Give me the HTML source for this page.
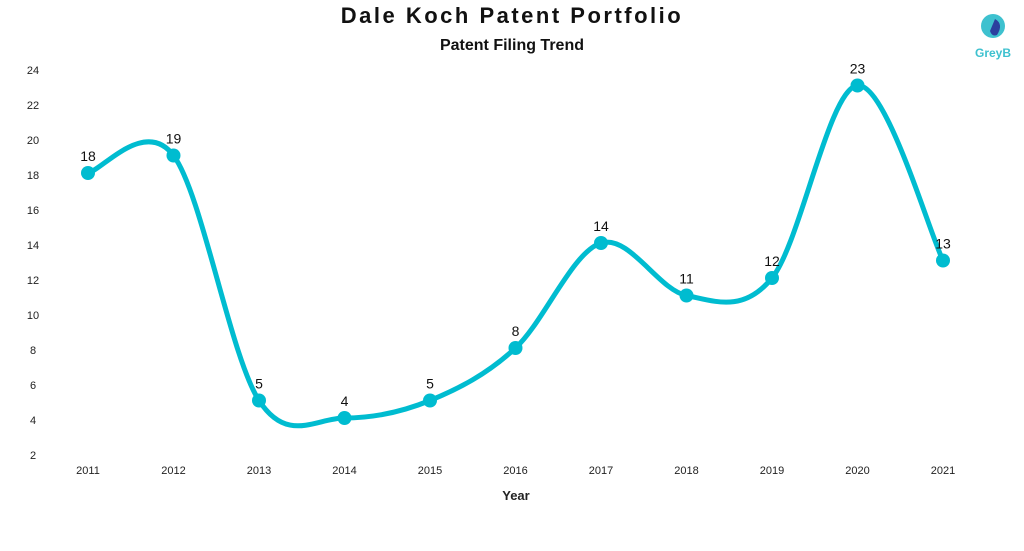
<!DOCTYPE html>
<html><head><meta charset="utf-8"><style>
body{margin:0;background:#fff;width:1024px;height:546px;overflow:hidden;font-family:"Liberation Sans",sans-serif}
</style></head><body>
<svg id="s" width="1024" height="546" viewBox="0 0 1024 546" xmlns="http://www.w3.org/2000/svg" font-family="Liberation Sans, sans-serif">
<text x="512" y="23" text-anchor="middle" font-size="22" font-weight="bold" letter-spacing="2.5" fill="#111">Dale Koch Patent Portfolio</text>
<text x="512" y="50" text-anchor="middle" font-size="16" font-weight="bold" fill="#111">Patent Filing Trend</text>
<g font-size="11" fill="#222" text-anchor="middle">
<text x="33" y="74">24</text><text x="33" y="109">22</text><text x="33" y="144">20</text><text x="33" y="179">18</text><text x="33" y="214">16</text><text x="33" y="249">14</text><text x="33" y="284">12</text><text x="33" y="319">10</text><text x="33" y="354">8</text><text x="33" y="389">6</text><text x="33" y="424">4</text><text x="33" y="459">2</text>
</g>
<g id="xl" font-size="11" fill="#222" text-anchor="middle"></g>
<text x="516" y="500" text-anchor="middle" font-size="13" font-weight="bold" fill="#222">Year</text>
<path id="p" fill="none" stroke="#00bcd0" stroke-width="5" stroke-linecap="round"/>
<g id="pts" fill="#00bcd0"></g>
<g id="lb" font-size="14" fill="#111" text-anchor="middle"></g>
<circle cx="993" cy="26" r="12" fill="#3ec1cf"/>
<path d="M995 19 q9 5 2 16 q-5 2 -7 -4z" fill="#2b3f9e"/>
<text x="993" y="57" text-anchor="middle" font-size="12" font-weight="bold" fill="#3ec1cf">GreyB</text>
</svg>
<script>
var v=[18,19,5,4,5,8,14,11,12,23,13],P=[];
for(var i=0;i<11;i++)P.push([88+i*85.5,453-(v[i]-2)*17.5]);
var d="M"+P[0][0]+" "+P[0][1];
for(var i=0;i<10;i++){var a=P[Math.max(i-1,0)],b=P[i],c=P[i+1],e=P[Math.min(i+2,10)];
d+=" C"+(b[0]+(c[0]-a[0])/6)+" "+(b[1]+(c[1]-a[1])/6)+" "+(c[0]-(e[0]-b[0])/6)+" "+(c[1]-(e[1]-b[1])/6)+" "+c[0]+" "+c[1];}
document.getElementById("p").setAttribute("d",d);
var ns="http://www.w3.org/2000/svg",pts=document.getElementById("pts"),lb=document.getElementById("lb"),xl=document.getElementById("xl");
for(var i=0;i<11;i++){var c=document.createElementNS(ns,"circle");c.setAttribute("cx",P[i][0]);c.setAttribute("cy",P[i][1]);c.setAttribute("r",7);pts.appendChild(c);
var t=document.createElementNS(ns,"text");t.setAttribute("x",P[i][0]);t.setAttribute("y",P[i][1]-12);t.textContent=v[i];lb.appendChild(t);
var x=document.createElementNS(ns,"text");x.setAttribute("x",P[i][0]);x.setAttribute("y",474);x.textContent=2011+i;xl.appendChild(x);}
</script>
</body></html>
